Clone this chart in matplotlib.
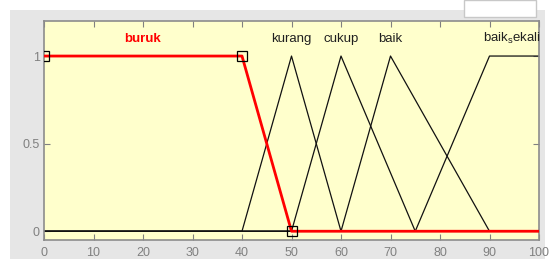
import matplotlib
matplotlib.use("Agg")
import matplotlib.pyplot as plt
from matplotlib.patches import Rectangle

# Membership functions (x breakpoints, y values)
mf_names = ["buruk", "kurang", "cukup", "baik", "baik_sekali"]
buruk_x = [0, 0, 40, 50, 100]
buruk_y = [1, 1, 1, 0, 0]
kurang_x = [0, 40, 50, 60, 100]
kurang_y = [0, 0, 1, 0, 0]
cukup_x = [0, 50, 60, 75, 100]
cukup_y = [0, 0, 1, 0, 0]
baik_x = [0, 60, 70, 90, 100]
baik_y = [0, 0, 1, 0, 0]
baik_sekali_x = [0, 75, 90, 100]
baik_sekali_y = [0, 0, 1, 1]
# vertex markers of selected MF
marker_x = [0, 40, 50]
marker_y = [1, 1, 0]
# label positions (x centre)
label_x = [20, 50, 60, 70, 94.5]
label_text = ["buruk", "kurang", "cukup", "baik", "baik$_{\\mathregular{s}}$ekali"]
xticks = [0, 10, 20, 30, 40, 50, 60, 70, 80, 90, 100]
yticks = [0, 0.5, 1]
ytick_labels = ["0", "0.5", "1"]

plt.rcParams['font.family'] = ['Liberation Sans', 'DejaVu Sans']

W, H = 555, 259
fig = plt.figure(figsize=(W / 100, H / 100), dpi=100)
fig.patch.set_facecolor("white")
# gray panel background
fig.patches.append(Rectangle((10 / W, 0), 535 / W, (H - 10) / H, transform=fig.transFigure,
                             facecolor="#e6e6e6", edgecolor="none", zorder=-10))
# white box top right
fig.patches.append(Rectangle((464 / W, (H - 17) / H), 72 / W, 17 / H, transform=fig.transFigure,
                             facecolor="white", edgecolor="#c8c8c8", lw=1, zorder=-5))

ax = fig.add_axes([44 / W, (H - 240) / H, 495 / W, 219 / H])
ax.set_facecolor("#ffffcc")

others = [(kurang_x, kurang_y), (cukup_x, cukup_y), (baik_x, baik_y), (baik_sekali_x, baik_sekali_y)]
for xs, ys in others:
    ax.plot(xs, ys, color="#111111", lw=0.9, zorder=2)
ax.plot(buruk_x, buruk_y, color="red", lw=2, zorder=3, solid_joinstyle="round")
ax.plot(marker_x, marker_y, ls="none", marker="s", ms=6.5, mfc="none", mec="black", mew=0.9, zorder=4,
        clip_on=True)

for i, (lx, lt) in enumerate(zip(label_x, label_text)):
    if i == 0:
        ax.text(lx, 1.1, lt, ha="center", va="center", color="red", fontsize=9.5, fontweight="bold")
    else:
        ax.text(lx, 1.1, lt, ha="center", va="center", color="#202020", fontsize=9.5)

ax.set_xlim(0, 100)
ax.set_ylim(-0.05, 1.2)
ax.set_xticks(xticks)
ax.set_xticklabels([str(t) for t in xticks])
ax.set_yticks(yticks)
ax.set_yticklabels(ytick_labels)
ax.tick_params(direction="in", length=4, width=0.8, colors="#808080", labelsize=9,
               top=True, right=True, pad=5)
ax.tick_params(axis="y", pad=3)
for sp in ax.spines.values():
    sp.set_color("#8c8c8c")
    sp.set_linewidth(1.2)

fig.savefig("out.png", dpi=100, facecolor=fig.get_facecolor())
